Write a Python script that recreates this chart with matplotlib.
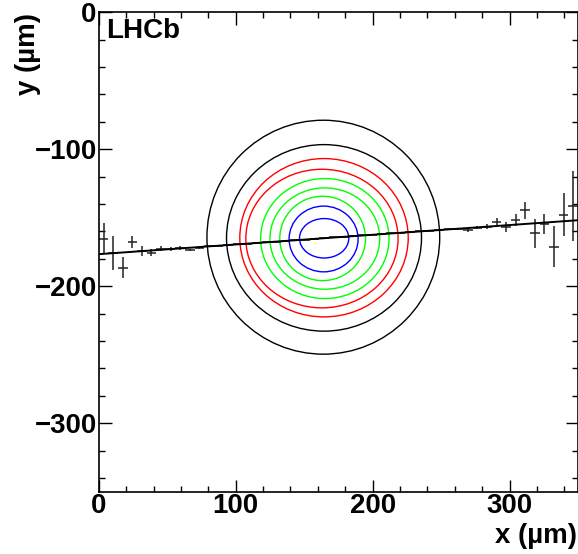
import numpy as np
import matplotlib
matplotlib.use("Agg")
import matplotlib.pyplot as plt
from matplotlib.patches import Ellipse
from matplotlib.ticker import MultipleLocator

plt.rcParams["font.family"] = ["Liberation Sans", "DejaVu Sans"]
plt.rcParams["font.weight"] = "bold"

# binned profile points (bin centres, mean y, error on mean)
x_bins = [3.5, 10.5, 17.5, 24.5, 31.5, 38.5, 45.5, 52.5, 59.5, 66.5,
          73.5, 80.5, 87.5, 94.5, 101.5, 108.5, 115.5, 122.5, 129.5, 136.5,
          143.5, 150.5, 157.5, 164.5, 171.5, 178.5, 185.5, 192.5, 199.5, 206.5,
          213.5, 220.5, 227.5, 234.5, 241.5, 248.5, 255.5, 262.5, 269.5, 276.5,
          283.5, 290.5, 297.5, 304.5, 311.5, 318.5, 325.5, 332.5, 339.5, 346.5]
y_mean = [-165.2, -175.5, -186.5, -167.8, -174.2, -175.5, -172.5, -172.7, -171.9, -173.6,
          -171.8, -170.9, -170.4, -169.9, -169.4, -168.9, -168.4, -167.9, -167.4, -166.9,
          -166.4, -165.9, -165.4, -164.9, -164.4, -163.9, -163.4, -162.9, -162.4, -161.9,
          -161.4, -160.9, -160.4, -159.9, -159.4, -158.9, -158.4, -158.3, -159.1, -157.2,
          -156.4, -153.0, -156.7, -151.5, -144.6, -161.3, -154.7, -171.0, -147.7, -141.5]
y_err = [11.5, 12.3, 7.5, 4.4, 3.5, 2.6, 2.0, 1.5, 1.3, 1.0,
         0.9, 0.8, 0.7, 0.6, 0.5, 0.5, 0.4, 0.4, 0.4, 0.4,
         0.4, 0.4, 0.4, 0.4, 0.4, 0.4, 0.4, 0.4, 0.4, 0.4,
         0.4, 0.4, 0.5, 0.5, 0.5, 0.6, 0.7, 0.8, 1.0, 1.2,
         1.5, 2.9, 3.4, 4.3, 6.4, 10.6, 7.4, 14.8, 15.6, 25.4]
x_halfwidth = 3.5

# straight-line fit
fit_x = [0, 350]
fit_y = [-176.6, -151.8]

# contour rings, outer to inner
ring_cx = [164.0, 164.5, 164.5, 163.0, 165.1, 165.1, 163.5, 164.2, 164.6]
ring_cy = [-164.2, -164.7, -164.6, -165.2, -165.2, -165.2, -165.1, -165.5, -165.0]
ring_hw = [85.0, 71.2, 61.5, 55.6, 46.9, 40.1, 31.3, 25.2, 18.0]
ring_hh = [85.4, 68.1, 57.8, 50.6, 43.8, 37.0, 30.8, 24.0, 14.4]
ring_col = ["black", "black", "red", "red", "#00ff00", "#00ff00", "#00ff00", "blue", "blue"]
peak_x, peak_y = 157.8, -168.8

fig = plt.figure(figsize=(5.78, 5.54), dpi=100)
ax = fig.add_axes([0.1709, 0.1125, 0.8291, 0.8653])

for cx, cy, hw, hh, c in zip(ring_cx, ring_cy, ring_hw, ring_hh, ring_col):
    ax.add_patch(Ellipse((cx, cy), 2 * hw, 2 * hh, fill=False, ec=c, lw=1.0))
ax.plot([peak_x], [peak_y], "s", color="yellow", ms=1.2, mew=0)

ax.errorbar(x_bins, y_mean, yerr=y_err, xerr=x_halfwidth, fmt="none",
            ecolor="#222222", elinewidth=1.1, capsize=0)
ax.plot(fit_x, fit_y, color="black", lw=1.4)

ax.set_xlim(0, 350)
ax.set_ylim(-350, 0)
ax.xaxis.set_major_locator(MultipleLocator(100))
ax.xaxis.set_minor_locator(MultipleLocator(20))
ax.yaxis.set_major_locator(MultipleLocator(100))
ax.yaxis.set_minor_locator(MultipleLocator(20))
ax.tick_params(which="both", direction="in", top=True, right=True, width=1.0)
ax.tick_params(which="major", length=9)
ax.tick_params(which="minor", length=4.5)
ax.tick_params(axis="x", which="major", labelsize=19.9, pad=1)
ax.tick_params(axis="y", which="major", labelsize=19.9, pad=1.5)
for lab in ax.get_xticklabels() + ax.get_yticklabels():
    lab.set_fontweight("bold")
for s in ax.spines.values():
    s.set_linewidth(1.2)

ax.text(0.0144, 0.988, "LHCb", transform=ax.transAxes, fontsize=20,
        fontweight="bold", ha="left", va="top")
fig.text(577 / 578, 1 - 543.3 / 554, "x (µm)", fontsize=19.9,
         fontweight="bold", ha="right", va="baseline")
fig.text(28 / 578, 1 - 13 / 554, "y (µm)", fontsize=19.9, fontweight="bold",
         rotation=90, ha="center", va="top")

fig.savefig("out.png", dpi=100)
